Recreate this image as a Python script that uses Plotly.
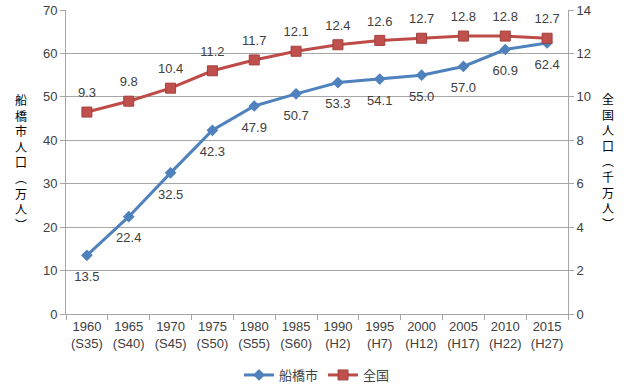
import plotly.graph_objects as go

years = ["1960<br>(S35)", "1965<br>(S40)", "1970<br>(S45)", "1975<br>(S50)", "1980<br>(S55)",
         "1985<br>(S60)", "1990<br>(H2)", "1995<br>(H7)", "2000<br>(H12)", "2005<br>(H17)",
         "2010<br>(H22)", "2015<br>(H27)"]
funabashi = [13.5, 22.4, 32.5, 42.3, 47.9, 50.7, 53.3, 54.1, 55.0, 57.0, 60.9, 62.4]
zenkoku = [9.3, 9.8, 10.4, 11.2, 11.7, 12.1, 12.4, 12.6, 12.7, 12.8, 12.8, 12.7]
left_title_chars = ["船", "橋", "市", "人", "口", "︵", "万", "人", "︶"]
right_title_chars = ["全", "国", "人", "口", "︵", "千", "万", "人", "︶"]

font_family = "Liberation Sans, Arial, Noto Sans CJK JP, sans-serif"
txt_color = "#404040"
grid_color = "#A6A6A6"

L, R, T, B = 66, 62, 10, 75
W, H = 630, 389
pw, ph = W - L - R, H - T - B

fig = go.Figure()
fig.add_trace(go.Scatter(
    x=years, y=funabashi, name="船橋市", mode="lines+markers",
    line=dict(color="#4F81BD", width=3),
    marker=dict(symbol="diamond", size=9, color="#4F81BD"),
    yaxis="y"))
fig.add_trace(go.Scatter(
    x=years, y=zenkoku, name="全国", mode="lines+markers",
    line=dict(color="#BE4B48", width=3),
    marker=dict(symbol="square", size=10, color="#C0504D", line=dict(color="#A0403D", width=1)),
    yaxis="y2"))
# data labels (invisible spacer markers set the label offset)
fig.add_trace(go.Scatter(
    x=years, y=funabashi, mode="markers+text", showlegend=False, hoverinfo="skip",
    marker=dict(size=24, color="rgba(0,0,0,0)"),
    text=[f"{v:.1f}" for v in funabashi], textposition="bottom center",
    textfont=dict(size=13, color=txt_color, family=font_family),
    yaxis="y", cliponaxis=False))
fig.add_trace(go.Scatter(
    x=years, y=zenkoku, mode="markers+text", showlegend=False, hoverinfo="skip",
    marker=dict(size=17, color="rgba(0,0,0,0)"),
    text=[f"{v:.1f}" for v in zenkoku], textposition="top center",
    textfont=dict(size=13, color=txt_color, family=font_family),
    yaxis="y2", cliponaxis=False))

fig.update_layout(
    width=W, height=H,
    margin=dict(l=L, r=R, t=T, b=B, autoexpand=False),
    paper_bgcolor="white", plot_bgcolor="white",
    font=dict(family=font_family, size=13, color=txt_color),
    showlegend=True,
    legend=dict(orientation="h", x=0.5, xanchor="center", y=-(375 - (H - B)) / ph, yanchor="middle",
                font=dict(size=13, color=txt_color, family="Noto Sans CJK JP, sans-serif"),
                tracegroupgap=0),
    xaxis=dict(type="category", range=[-0.5, 11.5], showgrid=False, automargin=False,
               showline=True, linecolor=grid_color, linewidth=1,
               ticks="outside", tickson="boundaries", ticklen=5, tickcolor=grid_color,
               tickfont=dict(size=13, color=txt_color)),
    yaxis=dict(range=[0, 70], dtick=10, showgrid=True, gridcolor=grid_color, gridwidth=1,
               showline=True, linecolor=grid_color, ticks="outside", ticklen=5,
               tickcolor=grid_color, zeroline=False, automargin=False,
               tickfont=dict(size=13, color=txt_color)),
    yaxis2=dict(range=[0, 14], dtick=2, overlaying="y", side="right", showgrid=False,
                showline=True, linecolor=grid_color, ticks="outside", ticklen=5,
                tickcolor=grid_color, zeroline=False, automargin=False,
                tickfont=dict(size=13, color=txt_color)),
)

vt_font = dict(size=12, color="#000000", family="Noto Sans CJK JP, sans-serif")


def add_vertical(chars, px_x, center_py):
    fig.add_annotation(text="<br>".join(chars), xref="paper", yref="paper",
                       x=(px_x - L) / pw, y=(H - B - center_py) / ph,
                       xanchor="center", yanchor="middle", showarrow=False,
                       font=vt_font, align="center")


add_vertical(left_title_chars, 21, 162)
add_vertical(right_title_chars, 608, 161)

fig.write_html("out.html", config={"displayModeBar": False},
               post_script="document.body.style.margin='0';document.body.style.overflow='hidden';")
